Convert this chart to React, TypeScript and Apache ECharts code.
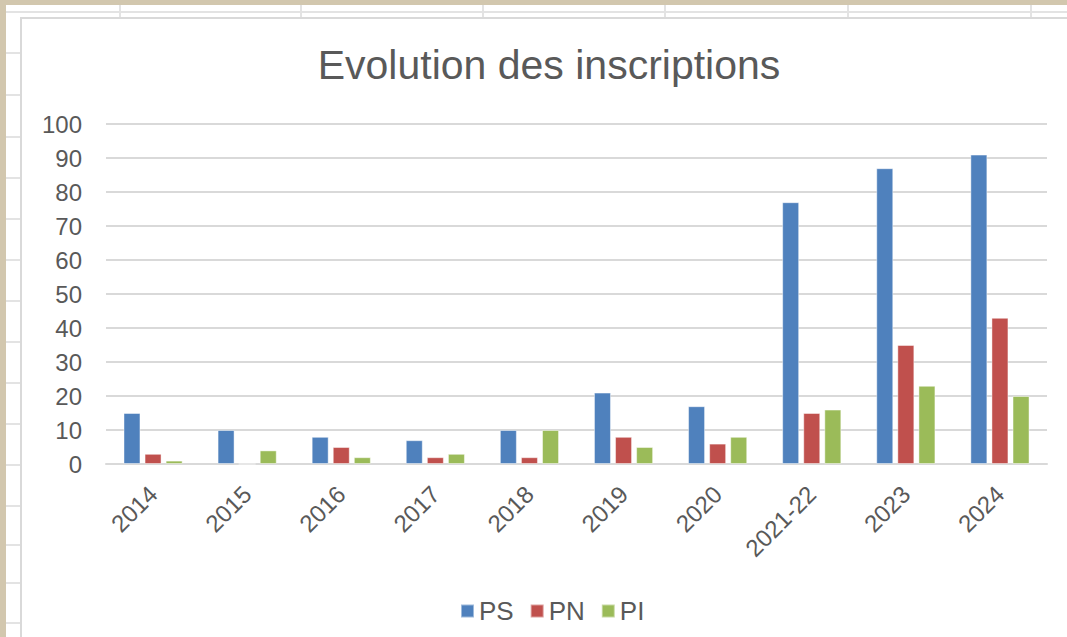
import React, { useEffect, useRef } from "react";
import * as echarts from "echarts";

const categories = ["2014", "2015", "2016", "2017", "2018", "2019", "2020", "2021-22", "2023", "2024"];
const psValues = [15, 10, 8, 7, 10, 21, 17, 77, 87, 91];
const pnValues = [3, 0, 5, 2, 2, 8, 6, 15, 35, 43];
const piValues = [1, 4, 2, 3, 10, 5, 8, 16, 23, 20];
const seriesNames = ["PS", "PN", "PI"];
const seriesColors = ["#4F81BD", "#C0504D", "#9BBB59"];

const W = 1067;
const H = 637;
const FONT = "'Liberation Sans', Arial, sans-serif";

export default function App() {
  const ref = useRef<HTMLDivElement>(null);
  useEffect(() => {
    document.body.style.margin = "0";
    if (!ref.current) return;
    const chart = echarts.init(ref.current, null, { renderer: "svg" });
    const parch = "#d2c7ae";
    const sheetLine = "#e3e3e3";
    const graphics: any[] = [
      { type: "rect", shape: { x: 0, y: 0, width: W, height: H }, style: { fill: parch }, silent: true, z: -10 },
      { type: "rect", shape: { x: 6, y: 5, width: W - 6, height: H - 5 }, style: { fill: "#ffffff" }, silent: true, z: -9 },
      { type: "line", shape: { x1: 6, y1: 12, x2: W, y2: 12 }, style: { stroke: sheetLine, lineWidth: 2 }, silent: true, z: -8 },
    ];
    [120, 301, 483, 665, 848, 1031].forEach((x) => {
      graphics.push({ type: "line", shape: { x1: x, y1: 5, x2: x, y2: 18 }, style: { stroke: sheetLine, lineWidth: 2 }, silent: true, z: -8 });
    });
    [53, 95, 137, 178, 219, 260, 301, 342, 383, 424, 465, 506, 545, 583, 623].forEach((y) => {
      graphics.push({ type: "line", shape: { x1: 6, y1: y, x2: 20, y2: y }, style: { stroke: sheetLine, lineWidth: 2 }, silent: true, z: -8 });
    });
    graphics.push({
      type: "rect",
      shape: { x: 21, y: 18, width: W + 10, height: H + 10 },
      style: { fill: "#ffffff", stroke: "#d9d9d9", lineWidth: 2 },
      silent: true,
      z: -7,
    });

    const values = [psValues, pnValues, piValues];
    chart.setOption({
      animation: false,
      backgroundColor: "transparent",
      textStyle: { fontFamily: FONT },
      graphic: graphics,
      title: {
        text: "Evolution des inscriptions",
        left: 544,
        top: 39,
        textAlign: "center",
        textStyle: { fontFamily: FONT, fontSize: 41, fontWeight: "normal", color: "#595959" },
      },
      legend: {
        left: 460,
        top: 598,
        padding: 0,
        icon: "rect",
        itemWidth: 13,
        itemHeight: 13,
        itemGap: 16,
        data: seriesNames,
        textStyle: { fontFamily: FONT, fontSize: 26, color: "#595959" },
      },
      grid: { left: 106, right: 20, top: 124, bottom: 173, containLabel: false },
      xAxis: {
        type: "category",
        data: categories,
        axisLine: { show: true, lineStyle: { color: "#d9d9d9", width: 2 } },
        axisTick: { show: false },
        axisLabel: { rotate: 45, margin: 26, fontFamily: FONT, fontSize: 24, color: "#595959", interval: 0 },
      },
      yAxis: {
        type: "value",
        min: 0,
        max: 100,
        interval: 10,
        axisLine: { show: false },
        axisTick: { show: false },
        splitLine: { lineStyle: { color: "#d9d9d9", width: 2 } },
        axisLabel: { margin: 24, fontFamily: FONT, fontSize: 24, color: "#595959" },
      },
      series: seriesNames.map((name, i) => ({
        name,
        type: "bar",
        data: values[i],
        barWidth: 17,
        barGap: "24%",
        itemStyle: { color: seriesColors[i], borderColor: "rgba(255,255,255,0.45)", borderWidth: 1 },
      })),
    });
    return () => chart.dispose();
  }, []);
  return <div ref={ref} style={{ width: W, height: H }} />;
}
